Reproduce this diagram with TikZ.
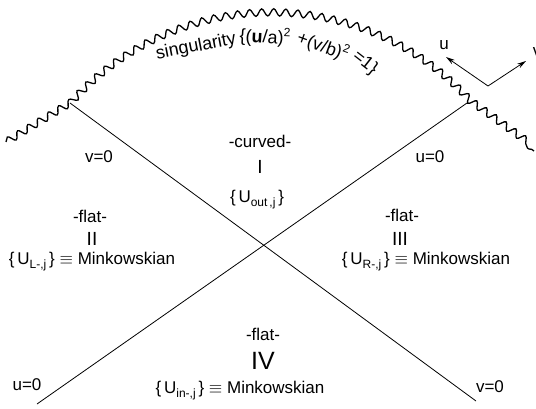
\documentclass[tikz,border=0pt]{standalone}
\usepackage{fontspec}
\setmainfont{Liberation Sans}
\usetikzlibrary{decorations.pathmorphing,arrows.meta}
\newcommand{\mysub}[1]{\raisebox{-0.45ex}{\fontsize{12}{12}\selectfont #1}}
\newcommand{\mysup}[1]{\raisebox{0.8ex}{\fontsize{12}{12}\selectfont #1}}
\begin{document}
\begin{tikzpicture}[x=1pt,y=-1pt,
  lbl/.style={font=\fontsize{17}{20}\selectfont, inner sep=0pt},
  roman/.style={font=\fontsize{19}{20}\selectfont, inner sep=0pt},
  bigroman/.style={font=\fontsize{25}{28}\selectfont, inner sep=0pt},
  singtxt/.style={font=\fontsize{18}{20}\selectfont, inner sep=0pt},
  wavy/.style={line width=1.3pt, decorate, decoration={snake, segment length=12pt, amplitude=3.6pt}},
  nullline/.style={line width=0.8pt},
  axisarrow/.style={line width=0.8pt, -{Stealth[length=9pt,width=5pt]}}]
\useasboundingbox (0,0) rectangle (536,409);
% singularity
\coordinate (wl) at (6,142);
\coordinate (jl) at (70,103);
\coordinate (jr) at (467,103);
\coordinate (wr) at (534,151);
\draw[wavy] (wl) -- (jl) arc[start angle=137.8, end angle=42.2, radius=268pt] -- (wr);
% null lines
\coordinate (bl) at (37,404);
\coordinate (br) at (476,401);
\draw[nullline] (jl) -- (br);
\draw[nullline] (jr) -- (bl);
% axes
\coordinate (o) at (488,86);
\coordinate (ua) at (446,57);
\coordinate (va) at (526,61);
\draw[axisarrow] (o) -- (ua);
\draw[axisarrow] (o) -- (va);
\node[lbl] (ulab) at (444,45) {u};
\node[lbl] (vlab) at (537,52) {v};
% singularity text
\node[singtxt, rotate=11] (s1) at (196,47) {singularity};
\node[singtxt, rotate=-3] (s2) at (265,37) {\{(\textbf{u}/a)\mysup{2}};
\node[singtxt, rotate=-20] (s3) at (323,46) {+(v/b)\mysup{2}};
\node[singtxt, rotate=-38] (s4) at (365,63) {=1\}};
% line labels
\node[lbl] (v0a) at (99,157) {v=0};
\node[lbl] (u0a) at (430,157) {u=0};
\node[lbl] (u0b) at (27,385) {u=0};
\node[lbl] (v0b) at (490,387) {v=0};
% region I
\node[lbl] (c1) at (260,141) {-curved-};
\node[roman] (r1) at (260,167) {I};
\node[lbl] (e1) at (257,200) {\{\,U\mysub{out\,,j}\,\}};
% region II
\node[lbl] (c2) at (90,216) {-flat-};
\node[roman] (r2) at (92,239) {II};
\node[lbl] (e2) at (92,262) {\{\,U\mysub{L-,j}\,\} $\equiv$ Minkowskian};
% region III
\node[lbl] (c3) at (402,215) {-flat-};
\node[roman] (r3) at (400,239) {III};
\node[lbl] (e3) at (426,262) {\{\,U\mysub{R-,j}\,\} $\equiv$ Minkowskian};
% region IV
\node[lbl] (c4) at (263,334) {-flat-};
\node[bigroman] (r4) at (263,361) {IV};
\node[lbl] (e4) at (240,391) {\{\,U\mysub{in-,j}\,\} $\equiv$ Minkowskian};
\end{tikzpicture}
\end{document}
